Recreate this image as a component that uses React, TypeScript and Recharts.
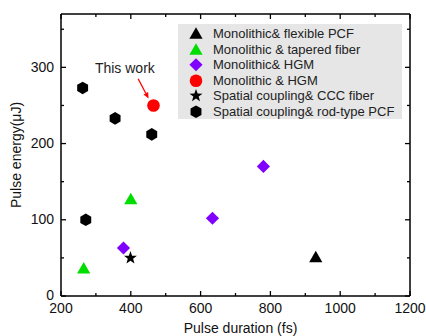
import React from 'react';
import {
  ScatterChart,
  Scatter,
  XAxis,
  YAxis,
  Legend,
  Label,
  ReferenceLine,
  ReferenceDot,
} from 'recharts';

// ---- data ----
const seriesNames = [
  'Monolithic& flexible PCF',
  'Monolithic & tapered fiber',
  'Monolithic& HGM',
  'Monolithic & HGM',
  'Spatial coupling& CCC fiber',
  'Spatial coupling& rod-type PCF',
];

const flexPcfX = [930];
const flexPcfY = [51];
const taperedX = [400, 265];
const taperedY = [127, 36];
const hgmX = [379, 634, 780];
const hgmY = [63, 102, 170];
const thisWorkX = [465];
const thisWorkY = [250];
const cccX = [399];
const cccY = [50];
const rodPcfX = [262, 355, 460, 271];
const rodPcfY = [273, 233, 212, 100];

const xTicks = [200, 300, 400, 500, 600, 700, 800, 900, 1000, 1100, 1200];
const yTicks = [0, 50, 100, 150, 200, 250, 300, 350];
const xDomain = [200, 1200];
const yDomain = [0, 370];

const annotationText = 'This work';
const annotationTextPos = [383, 299];
const arrowFrom = [421, 285];
const arrowTo = [451, 259];

const zip = (xs: number[], ys: number[]) => xs.map((x, i) => ({ x, y: ys[i] }));

// ---- shapes ----
type ShapeKind = 'triangle' | 'diamond' | 'circle' | 'star' | 'hexagon';

const drawShape = (kind: ShapeKind, cx: number, cy: number, fill: string, key?: string) => {
  if (kind === 'triangle') {
    const pts = `${cx},${cy - 6.5} ${cx - 6.6},${cy + 5} ${cx + 6.6},${cy + 5}`;
    return <polygon key={key} points={pts} fill={fill} />;
  }
  if (kind === 'diamond') {
    const r = 6.6;
    const pts = `${cx},${cy - r} ${cx + r},${cy} ${cx},${cy + r} ${cx - r},${cy}`;
    return <polygon key={key} points={pts} fill={fill} />;
  }
  if (kind === 'circle') {
    return <circle key={key} cx={cx} cy={cy} r={6.3} fill={fill} />;
  }
  if (kind === 'star') {
    const pts: string[] = [];
    for (let i = 0; i < 10; i++) {
      const r = i % 2 === 0 ? 6.8 : 2.8;
      const a = -Math.PI / 2 + (i * Math.PI) / 5;
      pts.push(`${cx + r * Math.cos(a)},${cy + r * Math.sin(a)}`);
    }
    return <polygon key={key} points={pts.join(' ')} fill={fill} />;
  }
  // hexagon, pointy top
  const pts: string[] = [];
  for (let i = 0; i < 6; i++) {
    const a = -Math.PI / 2 + (i * Math.PI) / 3;
    pts.push(`${cx + 6.3 * Math.cos(a)},${cy + 6.3 * Math.sin(a)}`);
  }
  return <polygon key={key} points={pts.join(' ')} fill={fill} />;
};

const series: { name: string; data: { x: number; y: number }[]; color: string; kind: ShapeKind }[] = [
  { name: seriesNames[0], data: zip(flexPcfX, flexPcfY), color: '#000000', kind: 'triangle' },
  { name: seriesNames[1], data: zip(taperedX, taperedY), color: '#00dd00', kind: 'triangle' },
  { name: seriesNames[2], data: zip(hgmX, hgmY), color: '#8000ff', kind: 'diamond' },
  { name: seriesNames[3], data: zip(thisWorkX, thisWorkY), color: '#ff0000', kind: 'circle' },
  { name: seriesNames[4], data: zip(cccX, cccY), color: '#000000', kind: 'star' },
  { name: seriesNames[5], data: zip(rodPcfX, rodPcfY), color: '#000000', kind: 'hexagon' },
];

const FONT = '"Liberation Sans", Arial, sans-serif';
const AXIS = { stroke: '#000', strokeWidth: 1.5 };

// ---- ticks ----
const BottomTick = (props: any) => {
  const { x, y, payload } = props;
  const major = payload.value % 200 === 0;
  const ay = y - 7;
  return (
    <g>
      <line x1={x} x2={x} y1={ay} y2={ay - (major ? 5 : 3)} stroke="#000" strokeWidth={1.3} />
      {major && (
        <text x={x} y={y} dy="0.71em" textAnchor="middle" fontSize={14} fill="#111" fontFamily={FONT}>
          {payload.value}
        </text>
      )}
    </g>
  );
};

const TopTick = (props: any) => {
  const { x, y, payload } = props;
  const major = payload.value % 200 === 0;
  return <line x1={x} x2={x} y1={y} y2={y + (major ? 5 : 3)} stroke="#000" strokeWidth={1.3} />;
};

const LeftTick = (props: any) => {
  const { x, y, payload } = props;
  const major = payload.value % 100 === 0;
  const ax = x + 7;
  return (
    <g>
      <line x1={ax} x2={ax + (major ? 5 : 3)} y1={y} y2={y} stroke="#000" strokeWidth={1.3} />
      {major && (
        <text x={x} y={y} dy="0.3em" textAnchor="end" fontSize={14} fill="#111" fontFamily={FONT}>
          {payload.value}
        </text>
      )}
    </g>
  );
};

const RightTick = (props: any) => {
  const { x, y, payload } = props;
  const major = payload.value % 100 === 0;
  return <line x1={x} x2={x - (major ? 5 : 3)} y1={y} y2={y} stroke="#000" strokeWidth={1.3} />;
};

// ---- legend ----
const LegendContent = () => {
  return (
    <div
      style={{
        background: '#e6e6e6',
        width: 224,
        height: 95,
        boxSizing: 'border-box',
        paddingTop: 2,
      }}
    >
      {series.map((s, i) => (
        <div key={i} style={{ display: 'flex', alignItems: 'center', height: 15.5 }}>
          <svg width={35} height={15.5} style={{ display: 'block' }}>
            {drawShape(s.kind, 18, 7.75, s.color)}
          </svg>
          <span style={{ fontFamily: FONT, fontSize: 13, color: '#222', whiteSpace: 'nowrap', lineHeight: '15.5px' }}>
            {s.name}
          </span>
        </div>
      ))}
    </div>
  );
};

// ---- annotation ----
const ArrowShape = (props: any) => {
  const { x1, y1, x2, y2 } = props;
  if (![x1, y1, x2, y2].every((v) => typeof v === 'number')) return null;
  const ang = Math.atan2(y2 - y1, x2 - x1);
  const len = 6;
  const w = 2.6;
  const bx = x2 - len * Math.cos(ang);
  const by = y2 - len * Math.sin(ang);
  const p1 = `${bx + w * Math.sin(ang)},${by - w * Math.cos(ang)}`;
  const p2 = `${bx - w * Math.sin(ang)},${by + w * Math.cos(ang)}`;
  return (
    <g>
      <line x1={x1} y1={y1} x2={bx} y2={by} stroke="#ff0000" strokeWidth={1.3} />
      <polygon points={`${x2},${y2} ${p1} ${p2}`} fill="#ff0000" />
    </g>
  );
};

const AnnotationText = (props: any) => {
  const { cx, cy } = props;
  return (
    <text x={cx} y={cy} dy="0.355em" textAnchor="middle" fontSize={14} fill="#222" fontFamily={FONT}>
      {annotationText}
    </text>
  );
};

const Nothing = () => <g />;

export default function App() {
  return (
    <div style={{ position: 'absolute', left: 0, top: 0, background: '#fff' }}>
      <ScatterChart
        width={426}
        height={336}
        margin={{ top: 13, right: 15, left: 0, bottom: 0 }}
        style={{ fontFamily: FONT }}
      >
        <XAxis
          xAxisId="bottom"
          type="number"
          dataKey="x"
          domain={xDomain}
          ticks={xTicks}
          interval={0}
          height={40}
          tickSize={0}
          tickMargin={7}
          tickLine={false}
          axisLine={AXIS}
          tick={<BottomTick />}
          allowDataOverflow
        >
          <Label value="Pulse duration (fs)" position="insideBottom" offset={3} dx={5} fontSize={14} fill="#111" fontFamily={FONT} />
        </XAxis>
        <XAxis
          xAxisId="top"
          orientation="top"
          type="number"
          dataKey="x"
          domain={xDomain}
          ticks={xTicks}
          interval={0}
          height={1}
          tickSize={0}
          tickMargin={0}
          tickLine={false}
          axisLine={AXIS}
          tick={<TopTick />}
          allowDataOverflow
        />
        <YAxis
          yAxisId="left"
          type="number"
          dataKey="y"
          domain={yDomain}
          ticks={yTicks}
          interval={0}
          width={61}
          tickSize={0}
          tickMargin={7}
          tickLine={false}
          axisLine={AXIS}
          tick={<LeftTick />}
          allowDataOverflow
        >
          <Label value="Pulse energy(μJ)" angle={-90} position="center" dx={-14} fontSize={14} fill="#111" fontFamily={FONT} />
        </YAxis>
        <YAxis
          yAxisId="right"
          orientation="right"
          type="number"
          dataKey="y"
          domain={yDomain}
          ticks={yTicks}
          interval={0}
          width={1}
          tickSize={0}
          tickMargin={0}
          tickLine={false}
          axisLine={AXIS}
          tick={<RightTick />}
          allowDataOverflow
        />
        {series.map((s) => (
          <Scatter
            key={s.name}
            name={s.name}
            data={s.data}
            fill={s.color}
            xAxisId="bottom"
            yAxisId="left"
            isAnimationActive={false}
            shape={(p: any) => drawShape(s.kind, p.cx, p.cy, s.color)}
          />
        ))}
        <Scatter
          name="frame"
          data={series[3].data}
          xAxisId="top"
          yAxisId="right"
          legendType="none"
          isAnimationActive={false}
          shape={<Nothing />}
        />
        <ReferenceLine
          xAxisId="bottom"
          yAxisId="left"
          segment={[
            { x: arrowFrom[0], y: arrowFrom[1] },
            { x: arrowTo[0], y: arrowTo[1] },
          ]}
          shape={<ArrowShape />}
        />
        <ReferenceDot
          xAxisId="bottom"
          yAxisId="left"
          x={annotationTextPos[0]}
          y={annotationTextPos[1]}
          r={0}
          shape={<AnnotationText />}
        />
        <Legend
          layout="vertical"
          align="center"
          verticalAlign="middle"
          content={<LegendContent />}
          wrapperStyle={{ left: 178, top: 24, width: 224, height: 95 }}
        />
      </ScatterChart>
    </div>
  );
}
